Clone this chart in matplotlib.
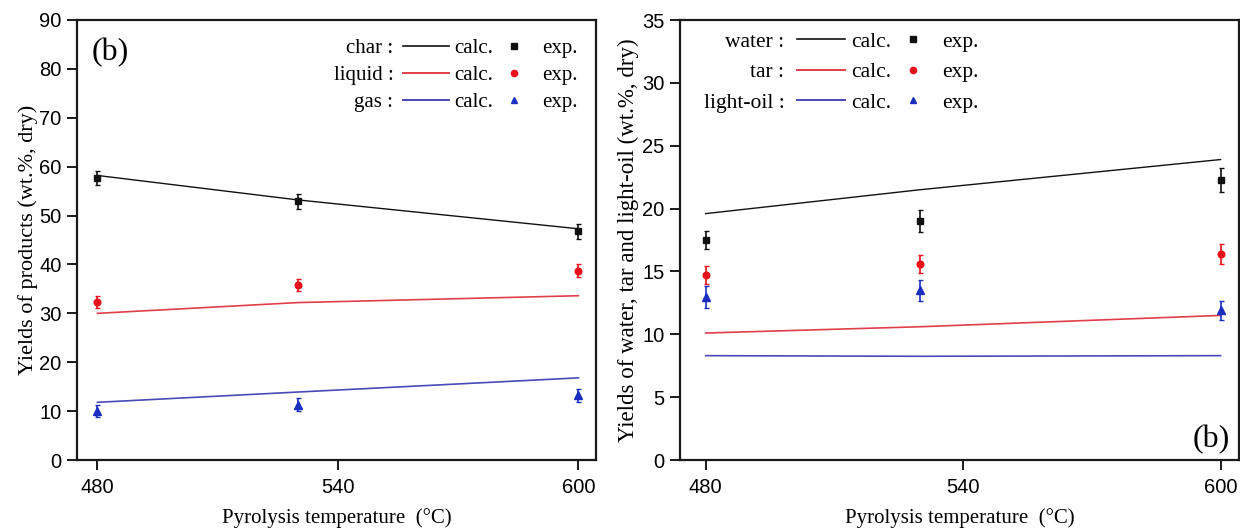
import matplotlib
matplotlib.use("Agg")
import matplotlib.pyplot as plt
from matplotlib.lines import Line2D
from matplotlib import font_manager

# ---------------- data ----------------
temps = [480, 530, 600]

char_calc = [58.2, 53.2, 47.3]
liquid_calc = [30.0, 32.2, 33.6]
gas_calc = [11.8, 13.9, 16.8]
char_exp = [57.7, 52.9, 46.8]
char_err = [1.5, 1.5, 1.5]
liquid_exp = [32.3, 35.8, 38.7]
liquid_err = [1.3, 1.3, 1.3]
gas_exp = [10.0, 11.3, 13.2]
gas_err = [1.2, 1.3, 1.3]

water_calc = [19.6, 21.5, 23.9]
tar_calc = [10.1, 10.6, 11.5]
lightoil_calc = [8.3, 8.25, 8.3]
water_exp = [17.5, 19.0, 22.3]
water_err = [0.75, 0.85, 0.95]
tar_exp = [14.7, 15.6, 16.4]
tar_err = [0.73, 0.7, 0.8]
lightoil_exp = [13.0, 13.5, 11.9]
lightoil_err = [0.87, 0.84, 0.76]

left_names = ["char :", "liquid :", "gas :"]
right_names = ["water :", "tar :", "light-oil :"]
xticks = [480, 540, 600]
left_yticks = [0, 10, 20, 30, 40, 50, 60, 70, 80, 90]
right_yticks = [0, 5, 10, 15, 20, 25, 30, 35]

# ---------------- style ----------------
try:
    font_manager.findfont("Liberation Sans Narrow", fallback_to_default=False)
    SANS = ["Liberation Sans Narrow", "DejaVu Sans"]
    TICK_SIZE = 16
except Exception:
    SANS = ["Liberation Sans", "DejaVu Sans"]
    TICK_SIZE = 14.5
SERIF = ["Liberation Serif", "DejaVu Serif"]
BLACK = "#111111"
RED_PT = "#e8101a"
BLUE_PT = "#1a2fc0"
RED_LN = "#e0404a"
BLUE_LN = "#4a4ab8"

W, H = 1240, 530
fig = plt.figure(figsize=(W / 100, H / 100), dpi=100)
axL = fig.add_axes([77 / W, 1 - 460 / H, 519 / W, 440 / H])
axR = fig.add_axes([680 / W, 1 - 460 / H, 559 / W, 440 / H])


def style_axes(ax, xlim, ylim, yticks, ylabel, ylabel_size, ylabel_x):
    ax.set_xlim(*xlim)
    ax.set_ylim(*ylim)
    ax.set_xticks(xticks)
    ax.set_yticks(yticks)
    for sp in ax.spines.values():
        sp.set_linewidth(1.6)
        sp.set_color("#1a1a1a")
    ax.tick_params(direction="out", length=7, width=1.4, top=False, right=False,
                   labelsize=TICK_SIZE, color="#1a1a1a")
    ax.tick_params(axis="x", pad=6)
    ax.tick_params(axis="y", pad=4)
    for lab in ax.get_xticklabels() + ax.get_yticklabels():
        lab.set_family(SANS)
    ax.set_xlabel("Pyrolysis temperature  (°C)", family=SERIF, fontsize=15)
    ax.xaxis.set_label_coords(0.5, -(518 - 460) / 440)
    ax.xaxis.label.set_va("center")
    ax.set_ylabel(ylabel, family=SERIF, fontsize=ylabel_size)
    ax.yaxis.set_label_coords(ylabel_x, 0.5)
    ax.yaxis.label.set_va("center")


def draw_series(ax, calc, exp, err, lcolor, pcolor, marker, ms, lw):
    ax.plot(temps, calc, color=lcolor, lw=lw)
    ax.errorbar(temps, exp, yerr=err, fmt=marker, color=pcolor, ms=ms,
                capsize=1.8, elinewidth=1.2, capthick=1.0)


def add_legend(ax, names, anchor, fsize, labelspacing, name_gap, handlelength):
    lines = [Line2D([], [], color=BLACK, lw=1.2),
             Line2D([], [], color=RED_LN, lw=1.4),
             Line2D([], [], color=BLUE_LN, lw=1.4)]
    marks = [Line2D([], [], ls="none", marker="s", color=BLACK, ms=4.5),
             Line2D([], [], ls="none", marker="o", color=RED_PT, ms=4.5),
             Line2D([], [], ls="none", marker="^", color=BLUE_PT, ms=5)]
    leg = ax.legend(lines + marks, ["calc."] * 3 + ["exp."] * 3, ncol=2,
                    loc="upper left", bbox_to_anchor=anchor, frameon=False,
                    prop={"family": SERIF, "size": fsize},
                    handlelength=handlelength, handletextpad=0.25, columnspacing=-0.1,
                    labelspacing=labelspacing, borderpad=0, borderaxespad=0)
    return leg, names, name_gap, fsize


# ---------------- left panel ----------------
style_axes(axL, (474.9, 604.4), (0, 90), left_yticks,
           "Yields of products (wt.%, dry)", 16, -(77 - 28) / 519)
draw_series(axL, char_calc, char_exp, char_err, BLACK, BLACK, "s", 4.8, 1.0)
draw_series(axL, liquid_calc, liquid_exp, liquid_err, RED_LN, RED_PT, "o", 4.8, 1.2)
draw_series(axL, gas_calc, gas_exp, gas_err, BLUE_LN, BLUE_PT, "^", 5.3, 1.2)
legL = add_legend(axL, left_names, (0.628, 0.958), 15, 0.36, 9.5, 2.2)
axL.text(0.029, 0.927, "(b)", transform=axL.transAxes, family=SERIF, fontsize=23,
         ha="left", va="center")

# ---------------- right panel ----------------
style_axes(axR, (474.0, 604.3), (0, 35), right_yticks,
           "Yields of water, tar and light-oil (wt.%, dry)", 16.5, -(680 - 628) / 559)
draw_series(axR, water_calc, water_exp, water_err, BLACK, BLACK, "s", 4.8, 1.0)
draw_series(axR, tar_calc, tar_exp, tar_err, RED_LN, RED_PT, "o", 4.8, 1.2)
draw_series(axR, lightoil_calc, lightoil_exp, lightoil_err, BLUE_LN, BLUE_PT, "^", 5.3, 1.2)
legR = add_legend(axR, right_names, (0.209, 0.974), 15.5, 0.49, 12.5, 2.25)
axR.text(0.984, 0.046, "(b)", transform=axR.transAxes, family=SERIF, fontsize=23,
         ha="right", va="center")

# place the series names to the left of each legend row
fig.canvas.draw()
renderer = fig.canvas.get_renderer()
for ax, (leg, names, gap, fsize) in ((axL, legL), (axR, legR)):
    handles = leg.legend_handles[:3]
    texts = leg.get_texts()[:3]
    for name, txt, hd in zip(names, texts, handles):
        tb = txt.get_window_extent(renderer)
        hb = hd.get_window_extent(renderer)
        x_disp = hb.x0 - gap
        y_disp = (tb.y0 + tb.y1) / 2
        xa, ya = ax.transAxes.inverted().transform((x_disp, y_disp))
        ax.text(xa, ya, name, transform=ax.transAxes, family=SERIF, fontsize=fsize,
                ha="right", va="center")

fig.savefig("out.png", dpi=100)
